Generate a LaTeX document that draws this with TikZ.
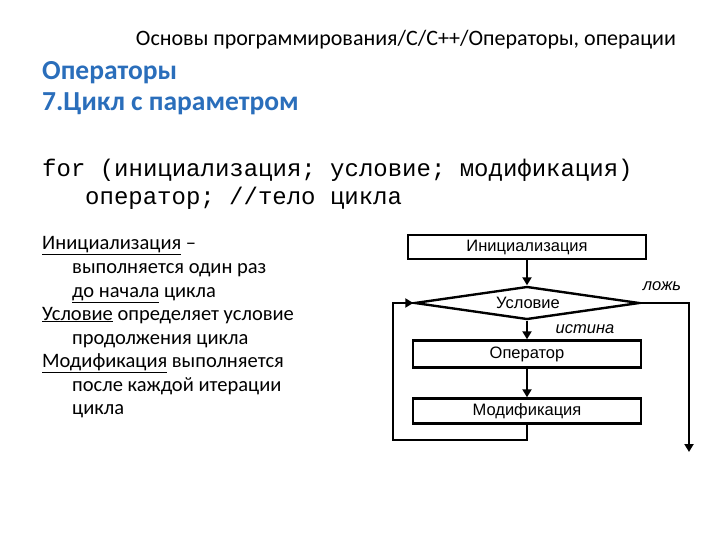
\documentclass[tikz,border=0pt]{standalone}
\usepackage{fontspec}
\setmainfont{Carlito}
\newfontfamily\codefont{Liberation Mono}
\newfontfamily\boxfont{Liberation Sans}
\usetikzlibrary{shapes.geometric,arrows.meta}
\definecolor{hblue}{HTML}{2A6EBB}
\begin{document}
\begin{tikzpicture}[x=1pt,y=-1pt,
  fbox/.style={draw,line width=2.4pt,minimum width=236pt,minimum height=24pt,font=\boxfont\fontsize{16.5}{18}\selectfont,inner sep=0pt},
  arr/.style={line width=2.4pt,-{Triangle[length=8pt,width=9pt]}},
  lt/.style={anchor=base west,font=\fontsize{20.5}{23}\selectfont,inner sep=0pt}]
\useasboundingbox (0,0) rectangle (720,540);
\node[font=\fontsize{22}{24}\selectfont] (title) at (406,40) {Основы программирования/С/С++/Операторы, операции};
\node[anchor=west,inner sep=0pt,text=hblue,font=\bfseries\fontsize{27.5}{30}\selectfont] (h1) at (42,73) {Операторы};
\node[anchor=west,inner sep=0pt,text=hblue,font=\bfseries\fontsize{27.5}{30}\selectfont] (h2) at (42,104) {7.Цикл с параметром};
\node[anchor=west,inner sep=0pt,font=\codefont\fontsize{24}{26}\selectfont] (c1) at (42,170) {for (инициализация; условие; модификация)};
\node[anchor=west,inner sep=0pt,font=\codefont\fontsize{24}{26}\selectfont] (c2) at (85,198) {оператор; //тело цикла};
\node[lt] (l1) at (42,249) {\underline{Инициализация} –};
\node[lt] (l2) at (72,273) {выполняется один раз};
\node[lt] (l3) at (72,297) {\underline{до начала} цикла};
\node[lt] (l4) at (42,320) {\underline{Условие} определяет условие};
\node[lt] (l5) at (72,344) {продолжения цикла};
\node[lt] (l6) at (42,367) {\underline{Модификация} выполняется};
\node[lt] (l7) at (72,391) {после каждой итерации};
\node[lt] (l8) at (72,414) {цикла};
\node[fbox,minimum width=238pt] (init) at (527,247) {Инициализация};
\node[draw,line width=2.4pt,diamond,aspect=6.8,minimum width=225pt,minimum height=33pt,inner sep=0pt] (cond) at (527,303) {};
\node[font=\boxfont\fontsize{16.5}{18}\selectfont] (condt) at (528,303) {Условие};
\node[fbox,minimum width=228pt,minimum height=27pt] (op) at (527,354) {Оператор};
\node[fbox,minimum width=228pt,minimum height=25pt] (mod) at (527,411) {Модификация};
\node[font=\boxfont\itshape\fontsize{16.5}{18}\selectfont] (lozh) at (662,286) {ложь};
\node[font=\boxfont\itshape\fontsize{16.5}{18}\selectfont] (ist) at (585,329) {истина};
\coordinate (lb) at (393,440);
\coordinate (rb) at (689,452);
\draw[arr] (init.south) -- (cond.north);
\draw[arr] (cond.south) -- (op.north);
\draw[arr] (op.south) -- (mod.north);
\draw[arr] (mod.south) -- (mod.south|-lb) -- (lb) |- (cond.west);
\draw[arr] (cond.east) -| (rb);
\end{tikzpicture}
\end{document}
